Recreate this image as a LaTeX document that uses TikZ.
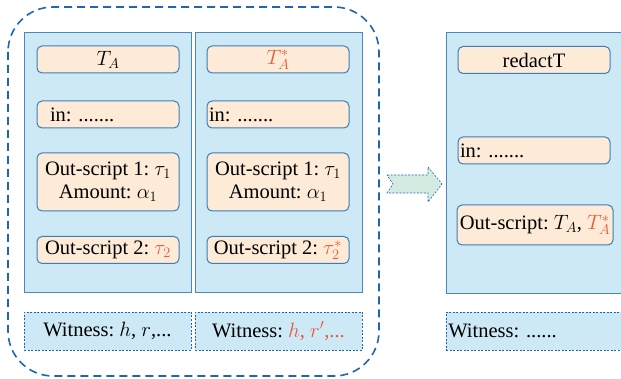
\documentclass[tikz,border=0pt]{standalone}
\usepackage{fontspec}
\setmainfont{Liberation Serif}
\frenchspacing
\begin{document}
\definecolor{panelfill}{HTML}{CDE9F5}
\definecolor{panelline}{HTML}{4A88BC}
\definecolor{boxfill}{HTML}{FDEBD7}
\definecolor{boxline}{HTML}{3C7DB8}
\definecolor{groupline}{HTML}{1F66B0}
\definecolor{hl}{HTML}{EA5A3A}
\definecolor{arrowfill}{HTML}{D3EBE1}
\begin{tikzpicture}[x=1pt,y=-1pt,
  font=\fontsize{20.5}{23}\selectfont,
  panel/.style={draw=panelline, fill=panelfill, line width=1pt, inner sep=0pt},
  field/.style={draw=boxline, fill=boxfill, rounded corners=5pt, line width=1pt,
    minimum width=142pt, minimum height=27pt, inner sep=1pt},
  witness/.style={draw=groupline, fill=panelfill, dash pattern=on 2pt off 1.5pt,
    line width=0.7pt, minimum width=167pt, minimum height=38pt, inner sep=1pt},
  group/.style={draw=groupline, line width=1.6pt, dash pattern=on 8pt off 5pt,
    rounded corners=45pt}]
\useasboundingbox (0,0) rectangle (621,379);
% dashed group around the two transactions
\draw[group] (8,7) rectangle (379,376);
% transaction panels
\node[panel, minimum width=167pt, minimum height=260pt] (pA) at (107.5,163) {};
\node[panel, minimum width=167pt, minimum height=260pt] (pB) at (278.5,163) {};
\node[panel, minimum width=190pt, minimum height=261pt, anchor=north west] (pR) at (446,32.5) {};
% fields of the first transaction
\node[field] (tA) at (108,59.5) {$T_A$};
\node[field, text width=138pt, align=left] (inA) at (108,114.5) {\hspace*{11pt}in: .......};
\node[field, minimum height=58pt, align=center] (o1A) at (108,182) {Out-script 1: $\tau_1$\\Amount: $\alpha_1$};
\node[field] (o2A) at (108,250) {Out-script 2: \textcolor{hl}{$\tau_2$}};
% fields of the second transaction
\node[field] (tB) at (278,59.5) {\textcolor{hl}{$T^{*}_{A}$}};
\node[field, text width=138pt, align=left] (inB) at (278,114.5) {in: .......};
\node[field, minimum height=58pt, align=center] (o1B) at (278,182) {Out-script 1: $\tau_1$\\Amount: $\alpha_1$};
\node[field] (o2B) at (278,250) {Out-script 2: \textcolor{hl}{$\tau^{*}_{2}$}};
% witnesses
\node[witness] (wA) at (107.5,331) {Witness: $h$, $r$,...};
\node[witness] (wB) at (278.5,331) {Witness: \textcolor{hl}{$h$, $r'$,...}};
% redacted transaction
\node[field, minimum width=152pt] (tR) at (534,60) {redactT};
\node[field, minimum width=152pt, text width=148pt, align=left] (inR) at (534,150.5) {in: .......};
\node[field, minimum width=156pt, minimum height=40pt, inner sep=0pt] (oR) at (535,225) {Out-script: $T_A$, \textcolor{hl}{$T^{*}_{A}$}};
\node[witness, minimum width=190pt, text width=186pt, align=left, anchor=north west] (wR) at (446,312) {Witness: ......};
% transition arrow
\draw[draw=groupline, fill=arrowfill, line width=0.6pt, dash pattern=on 2pt off 1.5pt]
  (387,175) -- (428,175) -- (428,167) -- (442,184) -- (428,202) -- (428,193)
  -- (387,193) -- (393,184) -- cycle;
\end{tikzpicture}
\end{document}
